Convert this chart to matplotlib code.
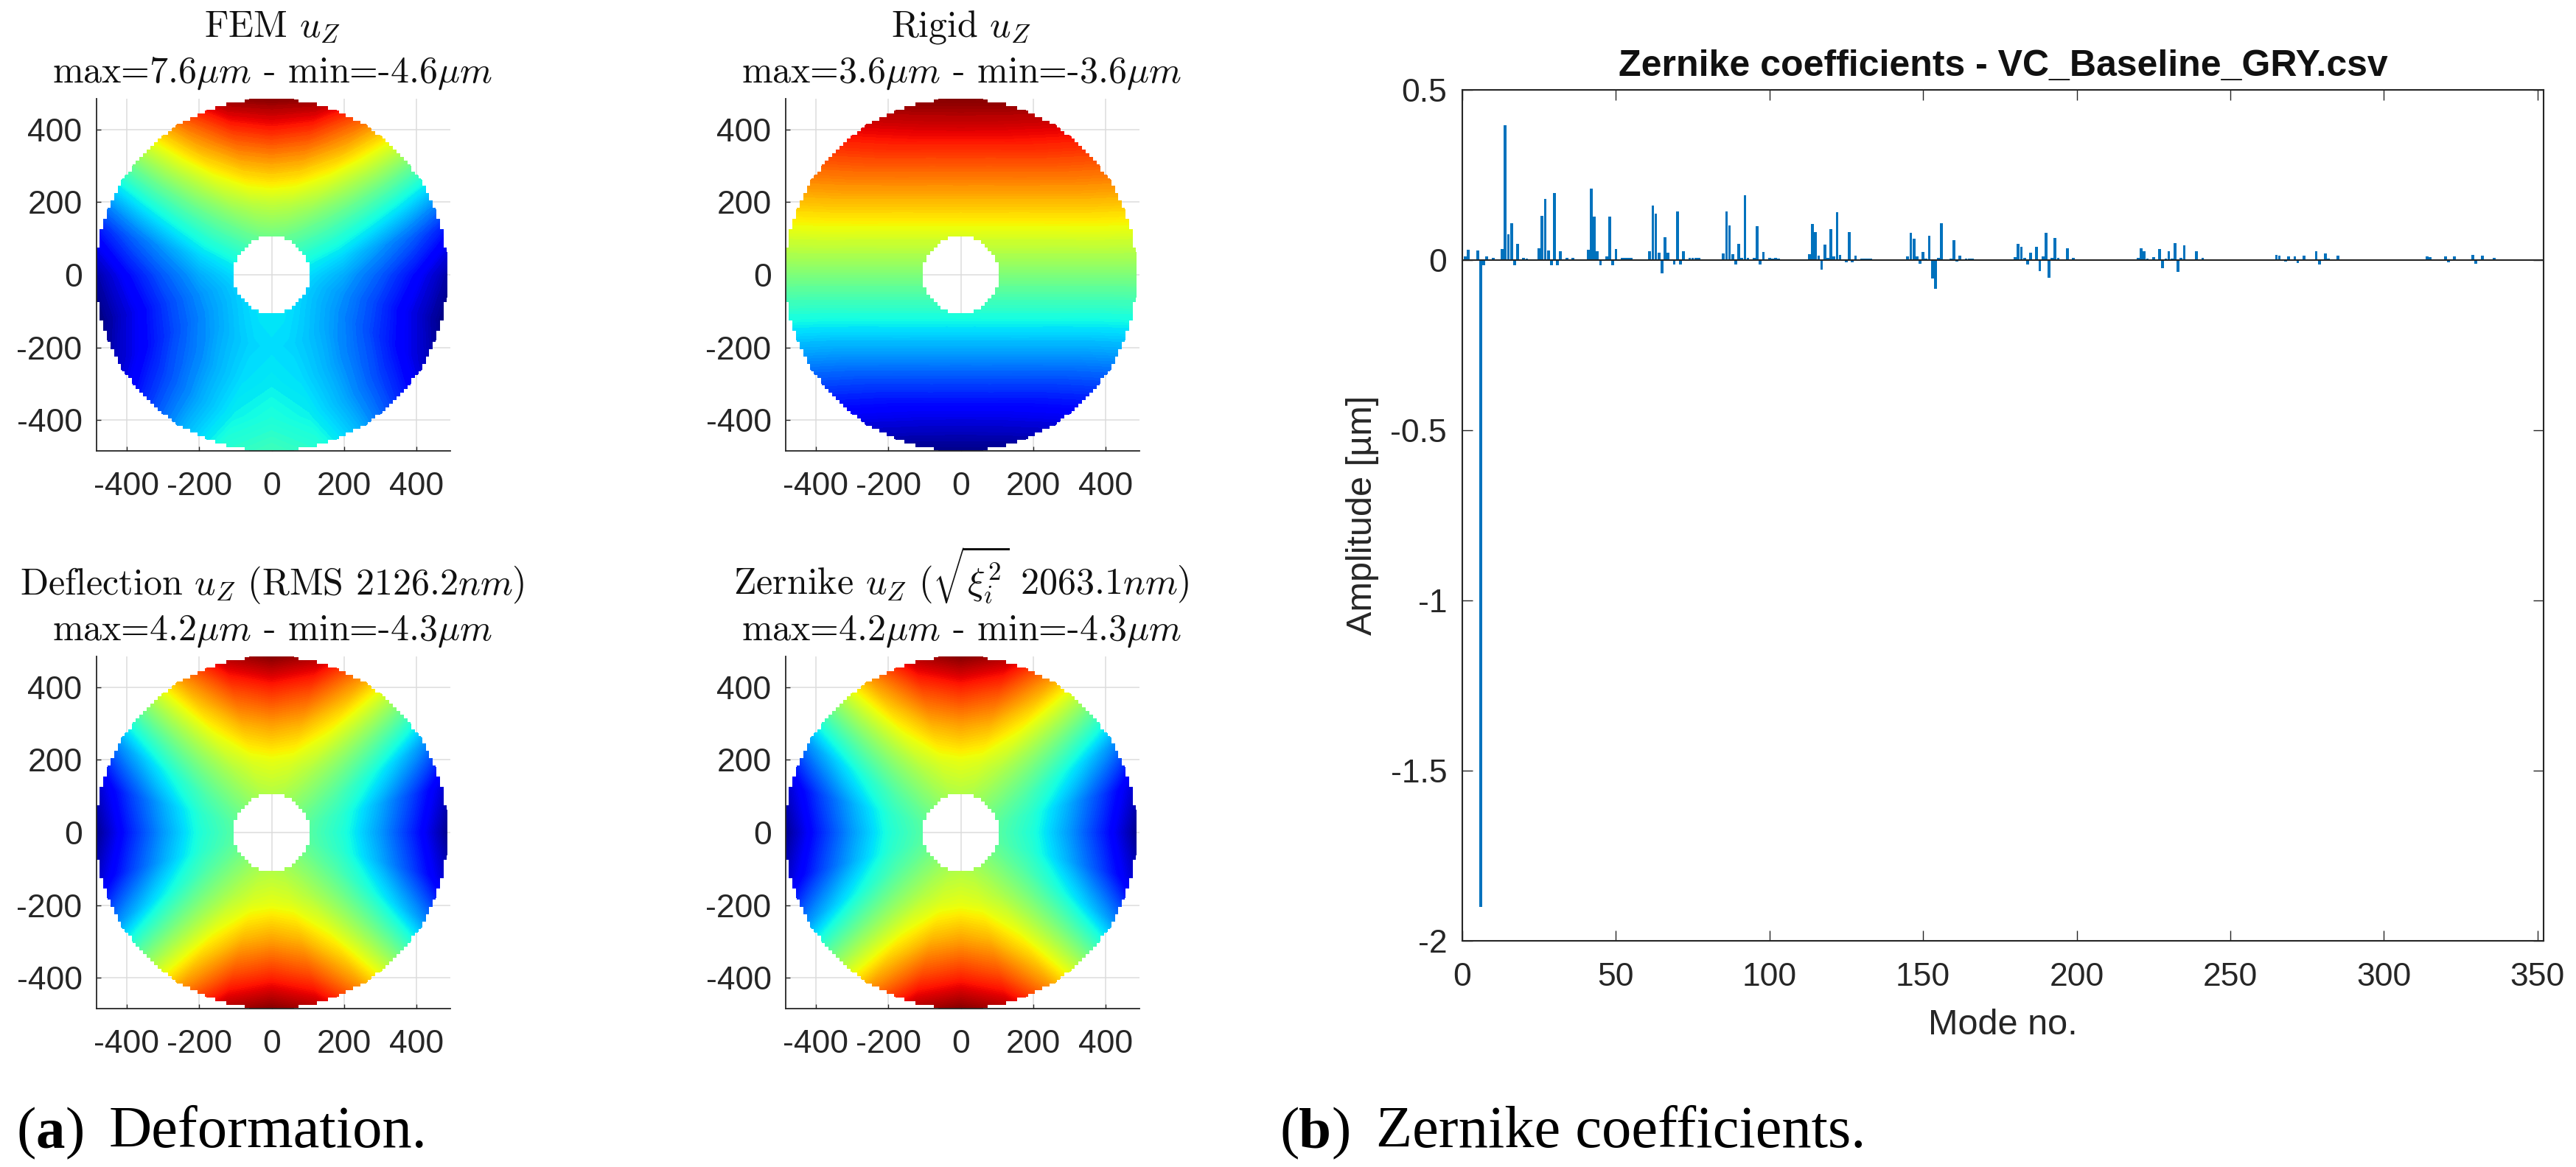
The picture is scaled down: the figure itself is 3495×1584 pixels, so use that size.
import numpy as np
import matplotlib
matplotlib.use('Agg')
import matplotlib.pyplot as plt
from matplotlib.path import Path

W, H = 3495, 1584

# polar reading of the maps: radius rows, angle columns from top (0 deg) to bottom (180 deg)
radii = [100, 200, 300, 400, 491]
angles_deg = [0, 15, 30, 45, 60, 75, 90, 105, 120, 135, 150, 165, 180]

fem_uz = [
    [1.2, 1.12, 0.87, 0.53, 0.16, -0.2, -0.45, -0.58, -0.6, -0.53, -0.43, -0.34, -0.3],
    [2.55, 2.36, 1.82, 1.06, 0.23, -0.52, -1.05, -1.3, -1.27, -1.06, -0.78, -0.54, -0.45],
    [4.25, 3.91, 2.95, 1.59, 0.13, -1.16, -2.0, -2.32, -2.13, -1.59, -0.95, -0.43, -0.25],
    [6.1, 5.6, 4.15, 2.12, -0.05, -1.92, -3.1, -3.48, -3.05, -2.12, -1.05, -0.2, 0.1],
    [7.6, 7.18, 5.22, 2.55, -0.3, -2.77, -4.3, -4.6, -3.9, -2.55, -0.98, 0.22, 0.6],
]
rigid_uz = [
    [0.75, 0.73, 0.65, 0.53, 0.38, 0.19, 0, -0.19, -0.38, -0.53, -0.65, -0.73, -0.75],
    [1.5, 1.45, 1.3, 1.06, 0.75, 0.39, 0, -0.39, -0.75, -1.06, -1.3, -1.45, -1.5],
    [2.25, 2.17, 1.95, 1.59, 1.13, 0.58, 0, -0.58, -1.13, -1.59, -1.95, -2.17, -2.25],
    [3.0, 2.9, 2.6, 2.12, 1.5, 0.78, 0, -0.78, -1.5, -2.12, -2.6, -2.9, -3.0],
    [3.6, 3.48, 3.12, 2.55, 1.8, 0.93, 0, -0.93, -1.8, -2.55, -3.12, -3.48, -3.6],
]
deflection_uz = [
    [0.45, 0.39, 0.22, 0, -0.22, -0.39, -0.45, -0.39, -0.22, 0, 0.22, 0.39, 0.45],
    [1.05, 0.91, 0.52, 0, -0.52, -0.91, -1.05, -0.91, -0.52, 0, 0.52, 0.91, 1.05],
    [2.0, 1.74, 1.0, 0, -1.0, -1.74, -2.0, -1.74, -1.0, 0, 1.0, 1.74, 2.0],
    [3.1, 2.7, 1.55, 0, -1.55, -2.7, -3.1, -2.7, -1.55, 0, 1.55, 2.7, 3.1],
    [4.2, 3.7, 2.1, 0, -2.1, -3.7, -4.3, -3.7, -2.1, 0, 2.1, 3.7, 4.2],
]
zernike_uz = deflection_uz

map_ticks = [-400, -200, 0, 200, 400]

# zernike bar chart, only modes that stand out of the axis
modes = [1, 2, 5, 6, 7, 8, 10, 13, 14, 15, 16, 17, 18, 20, 21, 25, 26, 27, 28, 29, 30, 31, 32, 34, 36,
         41, 42, 43, 44, 45, 47, 48, 49, 50, 52, 53, 54, 55, 61, 62, 63, 64, 65, 66, 67, 69, 70, 71, 72,
         74, 75, 76, 77, 85, 86, 87, 88, 89, 90, 91, 92, 93, 95, 96, 97, 98, 100, 101, 102, 103,
         113, 114, 115, 116, 117, 118, 119, 120, 121, 122, 123, 125, 126, 127, 128, 130, 131, 132, 133,
         145, 146, 147, 148, 149, 150, 151, 152, 153, 154, 155, 156, 159, 160, 161, 162, 164, 165, 166,
         180, 181, 182, 183, 184, 185, 187, 188, 189, 190, 191, 192, 193, 194, 197, 199,
         220, 221, 222, 223, 225, 227, 228, 229, 230, 231, 232, 233, 234, 235, 239, 241,
         265, 266, 268, 269, 271, 272, 274, 278, 279, 281, 282, 285,
         314, 315, 317, 320, 321, 323, 329, 330, 332, 336]
amps = [0.011, 0.03, 0.029, -1.9, -0.016, 0.011, 0.007, 0.032, 0.397, 0.076, 0.108, -0.016, 0.047, 0.007, 0.005,
        0.035, 0.13, 0.18, 0.029, -0.016, 0.198, -0.016, 0.027, 0.007, 0.007,
        0.03, 0.21, 0.128, 0.025, -0.016, 0.011, 0.128, -0.016, 0.033, 0.007, 0.007, 0.007, 0.007,
        0.027, 0.161, 0.137, 0.022, -0.04, 0.067, 0.022, -0.012, 0.143, -0.014, 0.025,
        0.007, 0.007, 0.007, 0.007, 0.02, 0.143, 0.102, 0.018, -0.012, 0.048, 0.007, 0.191, 0.007, 0.007, 0.1, -0.012, 0.024,
        0.006, 0.005, 0.006, 0.005,
        0.017, 0.105, 0.082, 0.014, -0.029, 0.045, 0.007, 0.091, 0.011, 0.141, 0.016, -0.007, 0.082, -0.007, 0.014,
        0.005, 0.005, 0.005, 0.005,
        0.011, 0.081, 0.063, 0.011, -0.011, 0.024, 0.005, 0.071, -0.054, -0.085, 0.007, 0.108, 0.005, 0.058, -0.004, 0.012,
        0.005, 0.004, 0.004,
        0.009, 0.048, 0.038, 0.007, -0.014, 0.022, 0.039, -0.032, 0.011, 0.081, -0.052, 0.007, 0.065, 0.007, 0.035, 0.007,
        0.007, 0.035, 0.027, 0.005, 0.009, 0.032, -0.024, 0.005, 0.027, 0.005, 0.05, -0.035, 0.007, 0.043, 0.025, 0.007,
        0.016, 0.012, -0.004, 0.011, 0.011, -0.009, 0.013, 0.025, -0.012, 0.02, 0.005, 0.012,
        0.01, 0.009, -0.003, 0.011, -0.007, 0.01, 0.016, -0.011, 0.012, 0.006]
bar_xticks = [0, 50, 100, 150, 200, 250, 300, 350]
bar_yticks = [-2, -1.5, -1, -0.5, 0, 0.5]
bar_yticklabels = ['-2', '-1.5', '-1', '-0.5', '0', '0.5']

INK = '#262626'
plt.rcParams['font.family'] = ['Liberation Sans', 'DejaVu Sans']
plt.rcParams['mathtext.fontset'] = 'cm'
plt.rcParams['axes.unicode_minus'] = False


def axes_px(fig, left, top, right, bottom):
    return fig.add_axes([left / W, 1 - bottom / H, (right - left) / W, (bottom - top) / H])


def stair_ring(radius, cell, reverse=False):
    # outline of the mesh cells inside a circle, the blocky edge of the original maps
    centres = np.arange(-int(radius // cell), int(radius // cell) + 1) * cell
    right = []
    for yc in centres:
        hw = np.sqrt(radius ** 2 - yc ** 2)
        hw = (np.round(hw / cell - 0.5) + 0.5) * cell
        right += [(hw, yc - cell / 2), (hw, yc + cell / 2)]
    left = [(-x, y) for x, y in right[::-1]]
    pts = right + left + [right[0]]
    if reverse:
        pts = pts[::-1]
    codes = [Path.MOVETO] + [Path.LINETO] * (len(pts) - 2) + [Path.CLOSEPOLY]
    return pts, codes


def draw_map(ax, table, line1, line2):
    half = np.array(table)
    vals = np.hstack([half, half[:, -2:0:-1], half[:, :1]])
    th = np.deg2rad(np.r_[angles_deg, 360 - np.array(angles_deg[-2:0:-1]), 360])
    rr = np.array(radii)[:, None]
    x = rr * np.sin(th)
    y = rr * np.cos(th)
    levels = np.linspace(half.min(), half.max(), 129)
    cs = ax.contourf(x, y, vals, levels=levels, cmap='jet', zorder=2, extend='both')
    outer, outer_codes = stair_ring(486, 10)
    inner, inner_codes = stair_ring(105, 10, reverse=True)
    cs.set_clip_path(Path(outer + inner, outer_codes + inner_codes), transform=ax.transData)
    ax.set_xlim(-483, 493)
    ax.set_ylim(-485, 485)
    ax.set_xticks(map_ticks)
    ax.set_yticks(map_ticks)
    ax.set_xticklabels([str(t) for t in map_ticks])
    ax.set_yticklabels([str(t) for t in map_ticks])
    ax.grid(True, color='#dcdcdc', lw=1.1)
    ax.set_axisbelow(True)
    ax.spines['top'].set_visible(False)
    ax.spines['right'].set_visible(False)
    for s in ['left', 'bottom']:
        ax.spines[s].set_linewidth(1.3)
        ax.spines[s].set_color(INK)
    ax.tick_params(direction='in', length=4, width=1.0, color=INK, labelcolor=INK, labelsize=32)
    ax.tick_params(axis='x', pad=20)
    ax.tick_params(axis='y', pad=14)
    box_h = 478.0
    cx = 238 / 480
    ax.text(cx, 1 + 84 / box_h, line1, transform=ax.transAxes, ha='center', va='baseline',
            fontsize=36, family='cmr10', color='#111111')
    ax.text(cx, 1 + 22 / box_h, line2, transform=ax.transAxes, ha='center', va='baseline',
            fontsize=36, family='cmr10', color='#111111')


fig = plt.figure(figsize=(W / 100, H / 100), dpi=100)

ax = axes_px(fig, 131, 134, 611, 612)
draw_map(ax, fem_uz, 'FEM $u_Z$', 'max=7.6$\\mu m$ - min=-4.6$\\mu m$')
ax = axes_px(fig, 1066, 134, 1546, 612)
draw_map(ax, rigid_uz, 'Rigid $u_Z$', 'max=3.6$\\mu m$ - min=-3.6$\\mu m$')
ax = axes_px(fig, 131, 891, 611, 1369)
draw_map(ax, deflection_uz, 'Deflection $u_Z$ (RMS 2126.2$nm$)', 'max=4.2$\\mu m$ - min=-4.3$\\mu m$')
ax = axes_px(fig, 1066, 891, 1546, 1369)
draw_map(ax, zernike_uz, 'Zernike $u_Z$ ($\\sqrt{\\xi_i^2}$ 2063.1$nm$)', 'max=4.2$\\mu m$ - min=-4.3$\\mu m$')

ax = axes_px(fig, 1984, 122, 3451, 1277)
ax.bar(modes, amps, width=0.9, color='#0072BD', linewidth=0)
ax.axhline(0, color=INK, lw=1.5)
ax.set_xlim(0, 352)
ax.set_ylim(-2, 0.5)
ax.set_xticks(bar_xticks)
ax.set_yticks(bar_yticks)
ax.set_yticklabels(bar_yticklabels)
ax.tick_params(direction='in', length=10, width=1.0, color=INK, labelcolor=INK, labelsize=32, top=True, right=True)
ax.tick_params(axis='x', pad=21)
ax.tick_params(axis='y', pad=15)
for s in ax.spines.values():
    s.set_linewidth(1.5)
    s.set_color(INK)
ax.set_xlabel('Mode no.', fontsize=35, color=INK, labelpad=16)
ax.set_ylabel('Amplitude [µm]', fontsize=35, color=INK, labelpad=11)
ax.set_title('Zernike coefficients - VC_Baseline_GRY.csv', fontsize=36, fontweight='bold', color='#111111', pad=14)

cap = ['Liberation Serif', 'DejaVu Serif']
base = 1 - 1557 / H
fig.text(22 / W, base, '(', fontsize=57, family=cap)
fig.text(48 / W, base, 'a', fontsize=57, family=cap, fontweight='bold')
fig.text(88 / W, base, ')', fontsize=57, family=cap)
fig.text(148 / W, base, 'Deformation.', fontsize=58, family=cap)
fig.text(1736 / W, base, '(', fontsize=57, family=cap)
fig.text(1762 / W, base, 'b', fontsize=57, family=cap, fontweight='bold')
fig.text(1806 / W, base, ')', fontsize=57, family=cap)
fig.text(1867 / W, base, 'Zernike coefficients.', fontsize=58, family=cap)

fig.savefig('out.png', dpi=100)
